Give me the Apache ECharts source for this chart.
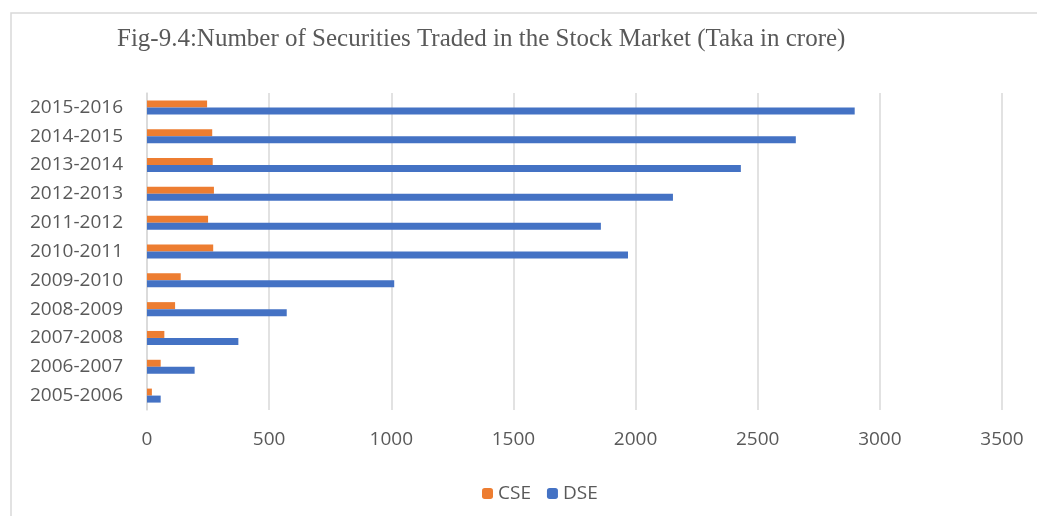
<!DOCTYPE html>
<html>
<head>
<meta charset="utf-8">
<script src="https://cdn.jsdelivr.net/npm/echarts@6/dist/echarts.min.js"></script>
<style>
  html, body { margin: 0; padding: 0; background: #fff; }
  #main { width: 1037px; height: 516px; }
</style>
</head>
<body>
<div id="main"></div>
<script>
var myChart = echarts.init(document.getElementById('main'));

// years, bottom to top
const years = ['2005-2006', '2006-2007', '2007-2008', '2008-2009', '2009-2010',
  '2010-2011', '2011-2012', '2012-2013', '2013-2014', '2014-2015', '2015-2016'];
const cseValues = [20, 56, 71, 115, 138, 271, 250, 274, 269, 267, 246];
const dseValues = [56, 195, 374, 572, 1012, 1969, 1858, 2153, 2431, 2656, 2897];
const xTicks = { min: 0, max: 3500, interval: 500 };

const textColor = '#595959';
const labelFont = 'Open Sans';

const option = {
  animation: false,
  backgroundColor: '#ffffff',
  title: {
    text: 'Fig-9.4:Number of Securities Traded in the Stock Market (Taka in crore)',
    left: 117,
    top: 27,
    padding: 0,
    textStyle: {
      fontFamily: 'Liberation Serif',
      fontWeight: 'normal',
      fontSize: 25,
      color: textColor
    }
  },
  // frame around the chart, cut off at the right and bottom
  graphic: [{
    type: 'rect',
    silent: true,
    shape: { x: 11, y: 13, width: 1200, height: 700 },
    style: { fill: 'none', stroke: '#d9d9d9', lineWidth: 1.5 }
  }],
  legend: {
    left: 477,
    top: 479,
    itemWidth: 11,
    itemHeight: 11,
    itemGap: 16,
    data: ['CSE', 'DSE'],
    textStyle: { fontFamily: labelFont, fontSize: 19, color: textColor }
  },
  grid: {
    left: 147,
    right: 35,
    top: 93,
    bottom: 106
  },
  xAxis: {
    type: 'value',
    min: xTicks.min,
    max: xTicks.max,
    interval: xTicks.interval,
    axisLine: { show: false },
    axisTick: { show: false },
    axisLabel: {
      margin: 20,
      fontFamily: labelFont,
      fontSize: 19,
      color: textColor,
      formatter: function (v) { return String(v); }
    },
    splitLine: { lineStyle: { color: '#d9d9d9', width: 1.5 } }
  },
  yAxis: {
    type: 'category',
    data: years,
    axisLine: { show: true, lineStyle: { color: '#d9d9d9', width: 1.5 } },
    axisTick: { show: false },
    axisLabel: { margin: 24, fontFamily: labelFont, fontSize: 19, color: textColor }
  },
  series: [
    {
      name: 'CSE',
      type: 'bar',
      data: cseValues,
      barWidth: 7,
      barGap: '0%',
      itemStyle: { color: '#ED7D31' }
    },
    {
      name: 'DSE',
      type: 'bar',
      data: dseValues,
      barWidth: 7,
      barGap: '0%',
      itemStyle: { color: '#4472C4' }
    }
  ]
};

myChart.setOption(option);
</script>
</body>
</html>
